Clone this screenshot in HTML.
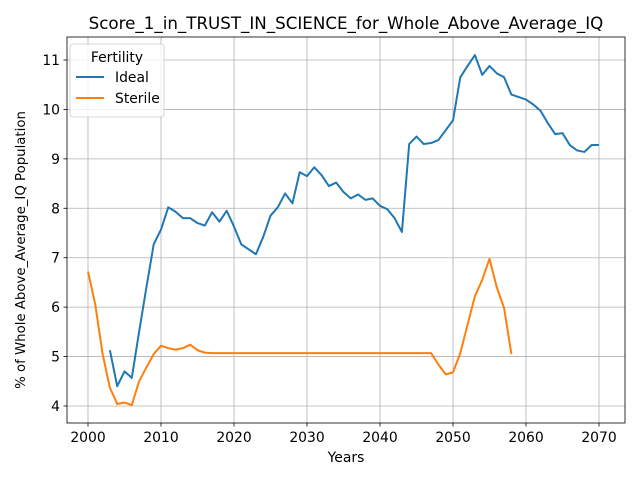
<!DOCTYPE html>
<html><head><meta charset="utf-8"><style>
body{margin:0;background:#fff;font-family:"Liberation Sans","DejaVu Sans",sans-serif;}
svg text{font-family:"DejaVu Sans","Liberation Sans",sans-serif;}
</style></head><body>
<svg id="chart" width="640" height="480" xmlns="http://www.w3.org/2000/svg"></svg>
<script>
const years = [];
for (let y = 2000; y <= 2070; y++) years.push(y);
const idealStart = 2003;
const idealValues = [5.13,4.4,4.7,4.57,5.5,6.4,7.27,7.57,8.02,7.93,7.8,7.8,7.7,7.65,7.92,7.73,7.95,7.63,7.27,7.17,7.07,7.42,7.85,8.02,8.3,8.1,8.73,8.65,8.83,8.67,8.45,8.52,8.33,8.2,8.28,8.17,8.2,8.05,7.98,7.8,7.52,9.3,9.45,9.3,9.32,9.38,9.58,9.78,10.65,10.88,11.1,10.7,10.88,10.73,10.65,10.3,10.25,10.2,10.1,9.97,9.72,9.5,9.52,9.28,9.17,9.14,9.28,9.28];
const sterileStart = 2000;
const sterileValues = [6.72,6.05,5.05,4.37,4.04,4.07,4.02,4.5,4.78,5.05,5.22,5.17,5.14,5.17,5.24,5.13,5.08,5.07,5.07,5.07,5.07,5.07,5.07,5.07,5.07,5.07,5.07,5.07,5.07,5.07,5.07,5.07,5.07,5.07,5.07,5.07,5.07,5.07,5.07,5.07,5.07,5.07,5.07,5.07,5.07,5.07,5.07,5.07,4.84,4.64,4.68,5.07,5.65,6.22,6.55,6.98,6.4,5.98,5.05];
const xTicks = [2000,2010,2020,2030,2040,2050,2060,2070];
const yTicks = [4,5,6,7,8,9,10,11];

const NS = "http://www.w3.org/2000/svg";
const svg = document.getElementById('chart');
const L=67,R=625,T=37,B=423;
const x = v => 88 + (v-2000)*(599-88)/70;
const y = v => 406 - (v-4)*(406-60)/7;
function el(tag, attrs, parent){const e=document.createElementNS(NS,tag);for(const k in attrs)e.setAttribute(k,attrs[k]);(parent||svg).appendChild(e);return e;}

const grid = el('g',{});


xTicks.forEach(t=>{
  el('line',{x1:x(t),x2:x(t),y1:T,y2:B,stroke:'#b0b0b0','stroke-width':0.8},grid);
  el('line',{x1:x(t),x2:x(t),y1:B,y2:B+3.5,stroke:'#000','stroke-width':0.8});
  const lb=el('text',{x:x(t),y:B+19,'text-anchor':'middle','font-size':13.9});
  lb.textContent=t;
  
  
});
yTicks.forEach(t=>{
  el('line',{x1:L,x2:R,y1:y(t),y2:y(t),stroke:'#b0b0b0','stroke-width':0.8},grid);
  el('line',{x1:L-3.5,x2:L,y1:y(t),y2:y(t),stroke:'#000','stroke-width':0.8});
  const lb=el('text',{x:L-7,y:y(t)+5,'text-anchor':'end','font-size':13.9});
  lb.textContent=t;
  
  
});
function series(vals,start,color,name){
  const d=vals.map((v,i)=>(i?'L':'M')+x(start+i).toFixed(2)+','+y(v).toFixed(2)).join(' ');
  const p=el('path',{d:d,fill:'none',stroke:color,'stroke-width':2,'stroke-linejoin':'round'});
  
  
}
series(idealValues,idealStart,'#1f77b4','ideal-line');
series(sterileValues,sterileStart,'#ff7f0e','sterile-line');
const frame=el('rect',{x:L,y:T,width:R-L,height:B-T,fill:'none',stroke:'#000','stroke-width':0.8});


const title=el('text',{x:(L+R)/2,y:29,'text-anchor':'middle','font-size':16.7});
title.textContent='Score_1_in_TRUST_IN_SCIENCE_for_Whole_Above_Average_IQ';


const xt=el('text',{x:(L+R)/2,y:462,'text-anchor':'middle','font-size':13.9});
xt.textContent='Years';


const yt=el('text',{x:25,y:(T+B)/2+20,'text-anchor':'middle','font-size':13.3,transform:'rotate(-90 25 '+((T+B)/2+20)+')'});
yt.textContent='% of Whole Above_Average_IQ Population';


const lg=el('g',{});


el('rect',{x:70,y:44,width:94,height:73,rx:3,fill:'#fff','fill-opacity':0.8,stroke:'#cccccc','stroke-width':0.8},lg);
const lt=el('text',{x:117,y:62,'text-anchor':'middle','font-size':13.9},lg);lt.textContent='Fertility';
[['Ideal','#1f77b4',77],['Sterile','#ff7f0e',98]].forEach(([n,c,yy])=>{
  const e=el('g',{},lg);
  
  
  el('line',{x1:76,x2:104,y1:yy,y2:yy,stroke:c,'stroke-width':2},e);
  const t=el('text',{x:115,y:yy+5,'font-size':13.9},e);t.textContent=n;
});
</script>
</body></html>
